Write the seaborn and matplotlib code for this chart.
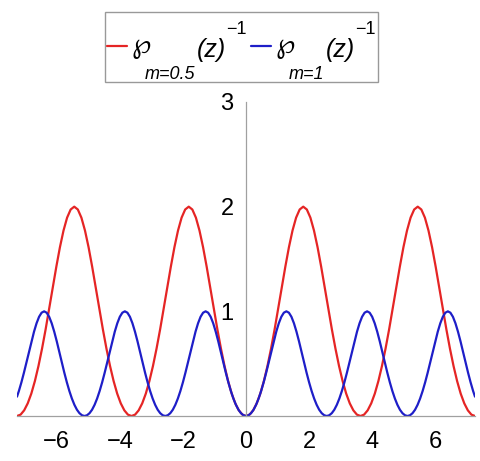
import numpy as np
import matplotlib
matplotlib.use("Agg")
import matplotlib.pyplot as plt
import seaborn as sns
from matplotlib.lines import Line2D
from matplotlib.patches import Rectangle
from matplotlib.ticker import MultipleLocator

# 1/wp(z) for m = 0.5, 32 samples per period (period ~3.63)
red_x = np.linspace(-7.26, 7.26, 129)
red_y = [
    0, 0.013, 0.054, 0.121, 0.214, 0.334, 0.478, 0.644, 0.828, 1.026, 1.229, 1.428, 1.613, 1.772, 1.895, 1.973,
    2.0, 1.973, 1.895, 1.772, 1.613, 1.428, 1.229, 1.026, 0.828, 0.644, 0.478, 0.334, 0.214, 0.121, 0.054, 0.013,
    0, 0.013, 0.054, 0.121, 0.214, 0.334, 0.478, 0.644, 0.828, 1.026, 1.229, 1.428, 1.613, 1.772, 1.895, 1.973,
    2.0, 1.973, 1.895, 1.772, 1.613, 1.428, 1.229, 1.026, 0.828, 0.644, 0.478, 0.334, 0.214, 0.121, 0.054, 0.013,
    0, 0.013, 0.054, 0.121, 0.214, 0.334, 0.478, 0.644, 0.828, 1.026, 1.229, 1.428, 1.613, 1.772, 1.895, 1.973,
    2.0, 1.973, 1.895, 1.772, 1.613, 1.428, 1.229, 1.026, 0.828, 0.644, 0.478, 0.334, 0.214, 0.121, 0.054, 0.013,
    0, 0.013, 0.054, 0.121, 0.214, 0.334, 0.478, 0.644, 0.828, 1.026, 1.229, 1.428, 1.613, 1.772, 1.895, 1.973,
    2.0, 1.973, 1.895, 1.772, 1.613, 1.428, 1.229, 1.026, 0.828, 0.644, 0.478, 0.334, 0.214, 0.121, 0.054, 0.013,
    0,
]

# 1/wp(z) for m = 1, 32 samples per period (period ~2.56), plus the two end points
blue_x = np.concatenate([[-7.26], np.linspace(-7.2, 7.2, 181), [7.26]])
blue_y = [
    0.185,
    0.239, 0.322, 0.414, 0.513, 0.614, 0.714, 0.806, 0.886, 0.948, 0.987, 1.0, 0.987, 0.948,
    0.886, 0.806, 0.714, 0.614, 0.513, 0.414, 0.322, 0.239, 0.167, 0.107, 0.060, 0.027, 0.007,
    0, 0.007, 0.027, 0.060, 0.107, 0.167, 0.239, 0.322, 0.414, 0.513, 0.614, 0.714, 0.806, 0.886, 0.948, 0.987,
    1.0, 0.987, 0.948, 0.886, 0.806, 0.714, 0.614, 0.513, 0.414, 0.322, 0.239, 0.167, 0.107, 0.060, 0.027, 0.007,
    0, 0.007, 0.027, 0.060, 0.107, 0.167, 0.239, 0.322, 0.414, 0.513, 0.614, 0.714, 0.806, 0.886, 0.948, 0.987,
    1.0, 0.987, 0.948, 0.886, 0.806, 0.714, 0.614, 0.513, 0.414, 0.322, 0.239, 0.167, 0.107, 0.060, 0.027, 0.007,
    0, 0.007, 0.027, 0.060, 0.107, 0.167, 0.239, 0.322, 0.414, 0.513, 0.614, 0.714, 0.806, 0.886, 0.948, 0.987,
    1.0, 0.987, 0.948, 0.886, 0.806, 0.714, 0.614, 0.513, 0.414, 0.322, 0.239, 0.167, 0.107, 0.060, 0.027, 0.007,
    0, 0.007, 0.027, 0.060, 0.107, 0.167, 0.239, 0.322, 0.414, 0.513, 0.614, 0.714, 0.806, 0.886, 0.948, 0.987,
    1.0, 0.987, 0.948, 0.886, 0.806, 0.714, 0.614, 0.513, 0.414, 0.322, 0.239, 0.167, 0.107, 0.060, 0.027, 0.007,
    0, 0.007, 0.027, 0.060, 0.107, 0.167, 0.239, 0.322, 0.414, 0.513, 0.614, 0.714, 0.806, 0.886, 0.948, 0.987,
    1.0, 0.987, 0.948, 0.886, 0.806, 0.714, 0.614, 0.513, 0.414, 0.322, 0.239,
    0.185,
]

x_ticks = [-6, -4, -2, 0, 2, 4, 6]
y_ticks = [1, 2, 3]
m_labels = ["m=0.5", "m=1"]
colors = ["#e52525", "#1e1ec8"]

sns.set_style("white")
plt.rcParams["font.family"] = ["Liberation Sans", "DejaVu Sans"]
plt.rcParams["mathtext.fontset"] = "dejavusans"
plt.rcParams["text.color"] = "black"

W, H = 480, 461
fig = plt.figure(figsize=(W / 100, H / 100), dpi=100)
ax = fig.add_axes([17 / W, 45 / H, 458 / W, 314 / H])

sns.lineplot(x=red_x, y=red_y, color=colors[0], linewidth=1.6, ax=ax, legend=False)
sns.lineplot(x=blue_x, y=blue_y, color=colors[1], linewidth=1.6, ax=ax, legend=False)

ax.set_xlim(-7.26, 7.26)
ax.set_ylim(0, 3)

# axes through the origin, Maple style
for side in ["top", "right"]:
    ax.spines[side].set_visible(False)
ax.spines["left"].set_position(("data", 0))
ax.spines["bottom"].set_position(("data", 0))
for side in ["left", "bottom"]:
    ax.spines[side].set_color("#a0a0a0")
    ax.spines[side].set_linewidth(0.9)

ax.set_xticks(x_ticks)
ax.set_yticks(y_ticks)
ax.xaxis.set_minor_locator(MultipleLocator(1))
ax.yaxis.set_minor_locator(MultipleLocator(0.5))
ax.tick_params(which="both", color="#a0a0a0", direction="out", width=0.9,
               labelsize=17, labelcolor="black")
ax.tick_params(which="major", length=5)
ax.tick_params(which="minor", length=3)
ax.tick_params(axis="x", pad=6)
ax.tick_params(axis="y", pad=4)


# legend drawn the way Maple lays it out: big (z), low subscript, high exponent
def fx(px):
    return px / W


def fy(py):
    return 1 - py / H


fig.patches.append(Rectangle((fx(105), fy(82)), fx(378) - fx(105), fy(12) - fy(82),
                             transform=fig.transFigure, fill=False, edgecolor="#999999",
                             linewidth=1.0))
starts = [107, 251]
for start, col, mlab in zip(starts, colors, m_labels):
    fig.lines.append(Line2D([fx(start), fx(start + 20)], [fy(46), fy(46)],
                            transform=fig.transFigure, color=col, linewidth=1.6))
    x0 = start + 24
    fig.text(fx(x0), fy(48), r"$\wp$", fontsize=20, ha="left", va="center")
    fig.text(fx(x0 + 14), fy(79), mlab, fontsize=13, style="italic", ha="left", va="baseline")
    x1 = x0 + 14 + (52 if mlab == "m=0.5" else 37)
    fig.text(fx(x1), fy(49.5), "(z)", fontsize=18, style="italic", ha="left", va="center")
    fig.text(fx(x1 + 29), fy(30), "\u22121", fontsize=13, ha="left", va="center")

fig.savefig("out.png", dpi=100)
